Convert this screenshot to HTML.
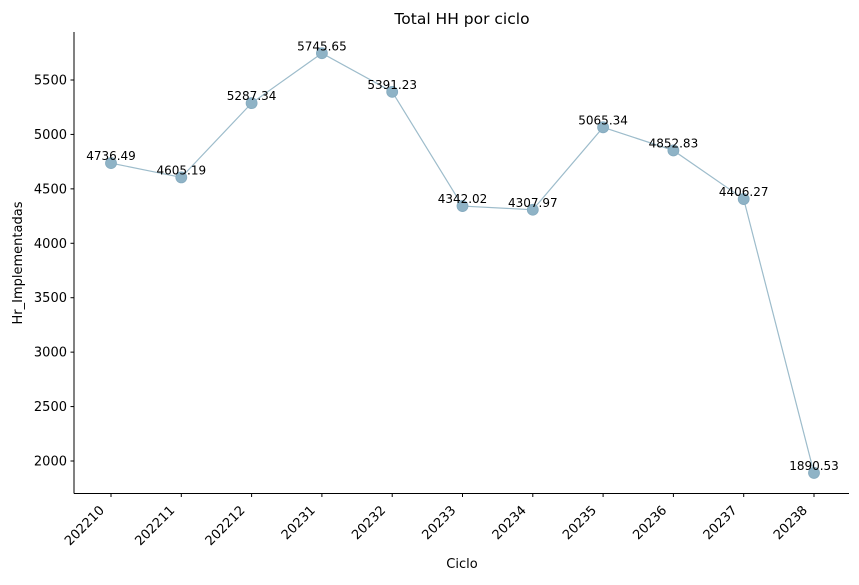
<!DOCTYPE html>
<html><head><meta charset="utf-8"><style>
body{margin:0;background:#fff;}
svg text{font-family:"DejaVu Sans","Liberation Sans",sans-serif;}
</style></head><body>
<svg id="chart" width="859" height="580" viewBox="0 0 859 580" xmlns="http://www.w3.org/2000/svg">
<text x="462" y="24" text-anchor="middle" font-size="15.5">Total HH por ciclo</text>
<g id="yaxis"></g>
<g id="xaxis"></g>
<line x1="74" y1="32" x2="74" y2="493.5" stroke="#000" stroke-width="1"/>
<line x1="74" y1="493.5" x2="849" y2="493.5" stroke="#000" stroke-width="1"/>
<g id="series"></g>
<text x="462" y="568" text-anchor="middle" font-size="13">Ciclo</text>
<text transform="translate(22,263) rotate(-90)" text-anchor="middle" font-size="13">Hr_Implementadas</text>
</svg>
<script>
const categories=["202210","202211","202212","20231","20232","20233","20234","20235","20236","20237","20238"];
const values=[4736.49,4605.19,5287.34,5745.65,5391.23,4342.02,4307.97,5065.34,4852.83,4406.27,1890.53];
const yTicks=[2000,2500,3000,3500,4000,4500,5000,5500];
const NS="http://www.w3.org/2000/svg";
function x(i){return 111+i*70.3;}
function y(v){return 461-(v-2000)*(381/3500);}
function mk(t,a,p){const e=document.createElementNS(NS,t);for(const k in a)e.setAttribute(k,a[k]);p.appendChild(e);return e;}
const ya=document.getElementById('yaxis'),xa=document.getElementById('xaxis'),s=document.getElementById('series');
yTicks.forEach(v=>{
 const l=mk('line',{x1:70.5,x2:74,y1:y(v),y2:y(v),stroke:'#000'},ya);
 
 
 const t=mk('text',{x:67,y:y(v)+4.5,'text-anchor':'end','font-size':13},ya);
 
 
 t.textContent=v;
});
categories.forEach((c,i)=>{
 const l=mk('line',{x1:x(i),x2:x(i),y1:493.5,y2:497,stroke:'#000'},xa);
 
 
 const t=mk('text',{x:0,y:0,'text-anchor':'end','font-size':13,transform:`translate(${x(i)-6},${511}) rotate(-45)`},xa);
 
 
 t.textContent=c;
});
const p=mk('polyline',{points:values.map((v,i)=>x(i)+','+y(v)).join(' '),fill:'none',stroke:'#9dbccb','stroke-width':1.2},s);


values.forEach((v,i)=>{
 const c=mk('circle',{cx:x(i),cy:y(v),r:5.5,fill:'#8fb3c6',stroke:'#86abbf','stroke-width':0.8},s);
 
 
 const t=mk('text',{x:x(i),y:y(v)-3,'text-anchor':'middle','font-size':12},s);
 
 
 t.textContent=v.toFixed(2);
});
</script>
</body></html>
